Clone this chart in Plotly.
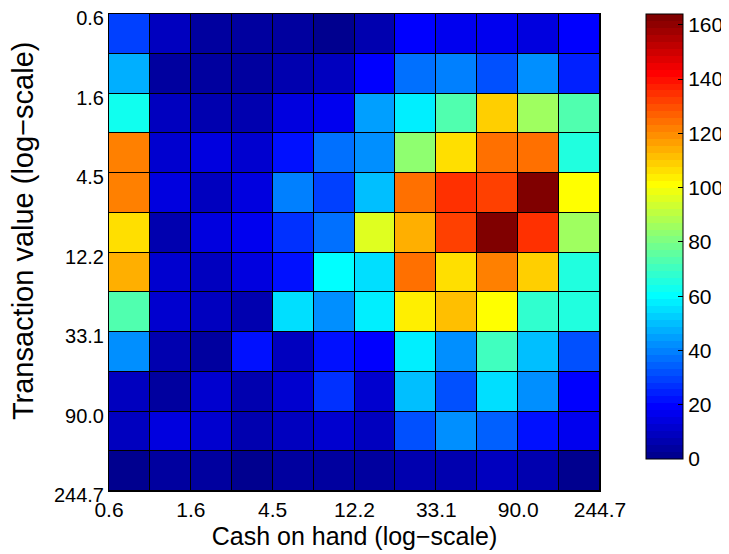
import numpy as np
import plotly.graph_objects as go

# Tick labels (bin edges, log-scale axes)
x_tick_labels = ["0.6", "1.6", "4.5", "12.2", "33.1", "90.0", "244.7"]
y_tick_labels = ["0.6", "1.6", "4.5", "12.2", "33.1", "90.0", "244.7"]
x_title = "Cash on hand (log\u2212scale)"
y_title = "Transaction value (log\u2212scale)"

# Counts: rows = transaction value bins (top = smallest), cols = cash on hand bins
row01 = [29, 10, 4, 3, 3, 2, 6.5, 18, 15.5, 17, 14, 19.5]
row02 = [47.6, 3, 5, 4, 7.5, 10, 18, 36, 39.7, 33, 43.5, 24]
row03 = [64, 9, 7.5, 6.5, 14, 15.5, 46, 56.6, 74, 110, 87, 74]
row04 = [120.5, 12.5, 14, 12.5, 23, 37, 41, 84.5, 107, 125.5, 123, 66.6]
row05 = [120.5, 14, 9, 14, 38.5, 29.5, 48.7, 125.5, 135.7, 133, 164, 100]
row06 = [107, 7.5, 14, 15.5, 27, 37, 95, 115, 133, 163, 135.7, 87]
row07 = [114, 12.5, 9, 14, 23, 59, 54, 125.5, 107, 121.7, 108.7, 66.6]
row08 = [74, 12.5, 9, 7.5, 54, 43.5, 56.6, 102.5, 111.5, 100, 69, 66.6]
row09 = [41, 7.5, 3, 20.5, 10, 22, 19.5, 56.6, 43.5, 71.7, 51, 33]
row10 = [10, 4, 11, 6.5, 11, 28, 12.5, 51, 33, 54, 43.5, 18]
row11 = [10, 14, 11, 6.5, 9, 11, 10, 32, 43.5, 34.5, 23, 16.5]
row12 = [2, 3.5, 4, 2, 3, 4, 4, 6.5, 7.5, 10, 6.5, 2]

z = [row01, row02, row03, row04, row05, row06,
     row07, row08, row09, row10, row11, row12]
n_rows = len(z)
n_cols = len(z[0])

# Bin edges in natural-log space (labels above are exp of these)
x_edges = np.linspace(-0.5, 5.5, n_cols + 1)
y_edges = np.linspace(-0.5, 5.5, n_rows + 1)
x_ticks = x_edges[::2]
y_ticks = y_edges[::2]

cmin, cmax = 0, 164


def jet(t):
    r = np.clip(min(4 * t - 1.5, -4 * t + 4.5), 0, 1)
    g = np.clip(min(4 * t - 0.5, -4 * t + 3.5), 0, 1)
    b = np.clip(min(4 * t + 0.5, -4 * t + 2.5), 0, 1)
    return "rgb(%d,%d,%d)" % (round(r * 255), round(g * 255), round(b * 255))


N = 64
colorscale = []
for k in range(N):
    c = jet((k + 1) / N)
    colorscale.append([k / N, c])
    colorscale.append([(k + 1) / N, c])

FONT = "Liberation Sans, Arial, sans-serif"

# The page body has an 8px margin, so the figure is sized/offset to compensate
fig = go.Figure(go.Heatmap(
    z=z,
    x=x_edges,
    y=y_edges,
    zmin=cmin,
    zmax=cmax,
    colorscale=colorscale,
    xgap=1,
    ygap=1,
    colorbar=dict(
        thickness=37,
        len=(459 - 14) / 477,
        lenmode="fraction",
        y=1,
        yanchor="top",
        x=1.0937,
        xanchor="left",
        xpad=0,
        ypad=0,
        outlinecolor="black",
        outlinewidth=1,
        tickmode="array",
        tickvals=[0, 20, 40, 60, 80, 100, 120, 140, 160],
        ticks="inside",
        ticklen=5,
        tickcolor="black",
        ticklabeloverflow="allow",
        tickfont=dict(family=FONT, size=21, color="black"),
    ),
))

fig.update_layout(
    width=721,
    height=546,
    margin=dict(l=101, r=129, t=6, b=63, autoexpand=False),
    paper_bgcolor="white",
    plot_bgcolor="black",
    font=dict(family=FONT, color="black"),
    xaxis=dict(
        range=[x_edges[0], x_edges[-1]],
        tickmode="array",
        tickvals=x_ticks,
        ticktext=x_tick_labels,
        ticks="",
        showgrid=False,
        zeroline=False,
        showline=True,
        linecolor="black",
        linewidth=1,
        mirror=True,
        ticklabeloverflow="allow",
        tickfont=dict(family=FONT, size=21, color="black"),
        title=dict(text=x_title, font=dict(family=FONT, size=25, color="black"), standoff=7),
    ),
    yaxis=dict(
        range=[y_edges[-1], y_edges[0]],
        tickmode="array",
        tickvals=y_ticks,
        ticktext=y_tick_labels,
        ticks="",
        showgrid=False,
        zeroline=False,
        showline=True,
        linecolor="black",
        linewidth=1,
        mirror=True,
        ticklabeloverflow="allow",
        ticklabelshift=-4,
        tickfont=dict(family=FONT, size=20, color="black"),
    ),
    annotations=[dict(
        text=y_title,
        xref="paper", yref="paper",
        x=-0.175, y=0.545,
        xanchor="center", yanchor="middle",
        textangle=-90,
        showarrow=False,
        font=dict(family=FONT, size=29, color="black"),
    )],
)

fig.write_html("out.html")
